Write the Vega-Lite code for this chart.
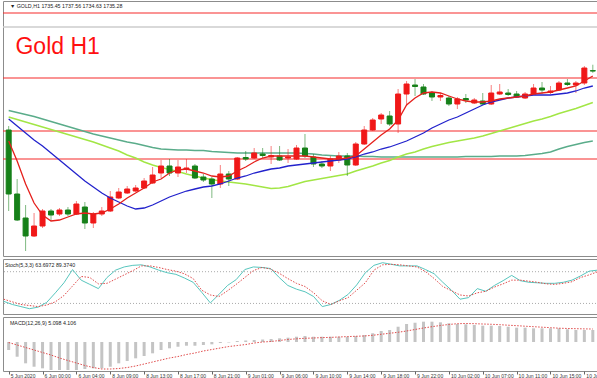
{
"$schema": "https://vega.github.io/schema/vega-lite/v6.json",
"padding": {"left": 1, "top": 0, "right": 0, "bottom": 0},
"spacing": 1,
"background": "white",
"config": {"view": {"stroke": "#8c8c8c", "strokeWidth": 1}, "axis": {"labelOverlap": false, "labelFlush": false, "labelBound": false}},
"datasets": {
"bars": [
{"i":0,"o":1714.06,"h":1715.50,"l":1684.90,"c":1691.02,"m1":1710.10,"m2":1718.02,"m3":1718.74,"m4":1721.08,"k":24,"d":28,"macd":-2.0,"sig":-0.13},
{"i":1,"o":1691.02,"h":1696.42,"l":1681.30,"c":1681.66,"m1":1702.90,"m2":1715.50,"m3":1717.84,"m4":1720.36,"k":18,"d":23,"macd":-3.68,"sig":-0.75},
{"i":2,"o":1682.38,"h":1687.06,"l":1670.50,"c":1675.90,"m1":1694.62,"m2":1712.98,"m3":1716.94,"m4":1719.64,"k":14,"d":18,"macd":-5.33,"sig":-1.38},
{"i":3,"o":1675.90,"h":1684.18,"l":1675.54,"c":1679.50,"m1":1687.78,"m2":1710.46,"m3":1716.04,"m4":1718.92,"k":10,"d":16,"macd":-6.18,"sig":-2.0},
{"i":4,"o":1679.50,"h":1685.62,"l":1678.78,"c":1684.90,"m1":1683.46,"m2":1708.30,"m3":1715.14,"m4":1718.02,"k":13,"d":14,"macd":-6.58,"sig":-2.63},
{"i":5,"o":1684.90,"h":1685.62,"l":1681.30,"c":1683.46,"m1":1681.30,"m2":1705.78,"m3":1714.24,"m4":1717.12,"k":22,"d":17,"macd":-7.0,"sig":-3.25},
{"i":6,"o":1683.82,"h":1685.98,"l":1683.10,"c":1685.26,"m1":1681.66,"m2":1703.26,"m3":1713.34,"m4":1716.22,"k":40,"d":23,"macd":-7.0,"sig":-4.0},
{"i":7,"o":1685.26,"h":1686.34,"l":1683.10,"c":1683.82,"m1":1682.74,"m2":1700.74,"m3":1712.44,"m4":1715.32,"k":59,"d":35,"macd":-7.0,"sig":-4.63},
{"i":8,"o":1683.82,"h":1688.50,"l":1683.46,"c":1687.42,"m1":1683.82,"m2":1698.22,"m3":1711.54,"m4":1714.42,"k":84,"d":53,"macd":-7.0,"sig":-5.25},
{"i":9,"o":1686.34,"h":1688.14,"l":1678.42,"c":1680.58,"m1":1684.18,"m2":1695.70,"m3":1710.64,"m4":1713.52,"k":64,"d":71,"macd":-6.75,"sig":-5.88},
{"i":10,"o":1680.58,"h":1684.54,"l":1678.78,"c":1683.82,"m1":1683.82,"m2":1693.54,"m3":1709.74,"m4":1712.62,"k":56,"d":69,"macd":-6.58,"sig":-6.38},
{"i":11,"o":1683.82,"h":1686.34,"l":1683.10,"c":1684.90,"m1":1684.18,"m2":1691.38,"m3":1708.66,"m4":1711.90,"k":48,"d":57,"macd":-6.58,"sig":-6.75},
{"i":12,"o":1684.90,"h":1692.10,"l":1684.54,"c":1689.94,"m1":1685.62,"m2":1689.58,"m3":1707.58,"m4":1711.18,"k":69,"d":58,"macd":-6.18,"sig":-6.75},
{"i":13,"o":1689.58,"h":1693.18,"l":1689.22,"c":1691.74,"m1":1687.42,"m2":1688.14,"m3":1706.50,"m4":1710.46,"k":83,"d":66,"macd":-5.33,"sig":-6.63},
{"i":14,"o":1691.38,"h":1693.90,"l":1691.02,"c":1692.82,"m1":1689.58,"m2":1686.70,"m3":1705.06,"m4":1709.74,"k":89,"d":74,"macd":-4.75,"sig":-6.38},
{"i":15,"o":1692.10,"h":1694.26,"l":1691.74,"c":1693.18,"m1":1691.38,"m2":1685.62,"m3":1703.98,"m4":1709.20,"k":92,"d":82,"macd":-4.08,"sig":-6.0},
{"i":16,"o":1693.18,"h":1696.78,"l":1692.82,"c":1695.70,"m1":1693.18,"m2":1685.98,"m3":1702.54,"m4":1708.48,"k":93,"d":91,"macd":-3.5,"sig":-5.5},
{"i":17,"o":1694.98,"h":1700.74,"l":1694.62,"c":1697.86,"m1":1695.34,"m2":1687.06,"m3":1701.46,"m4":1707.76,"k":89,"d":91,"macd":-2.83,"sig":-5.0},
{"i":18,"o":1698.58,"h":1703.26,"l":1696.78,"c":1701.10,"m1":1696.42,"m2":1688.50,"m3":1700.56,"m4":1707.22,"k":83,"d":88,"macd":-2.0,"sig":-4.5},
{"i":19,"o":1701.10,"h":1703.62,"l":1697.50,"c":1698.58,"m1":1698.58,"m2":1689.94,"m3":1699.84,"m4":1707.04,"k":78,"d":84,"macd":-1.58,"sig":-4.0},
{"i":20,"o":1698.58,"h":1703.26,"l":1697.14,"c":1700.74,"m1":1699.66,"m2":1691.02,"m3":1699.12,"m4":1706.86,"k":75,"d":81,"macd":-1.18,"sig":-3.63},
{"i":21,"o":1699.84,"h":1703.62,"l":1698.58,"c":1700.38,"m1":1700.02,"m2":1692.10,"m3":1698.22,"m4":1706.86,"k":68,"d":76,"macd":-0.93,"sig":-3.13},
{"i":22,"o":1701.10,"h":1701.82,"l":1696.42,"c":1696.78,"m1":1699.30,"m2":1692.82,"m3":1697.50,"m4":1706.68,"k":60,"d":67,"macd":-0.93,"sig":-2.75},
{"i":23,"o":1697.14,"h":1698.22,"l":1695.34,"c":1696.06,"m1":1698.58,"m2":1693.54,"m3":1696.78,"m4":1706.68,"k":41,"d":45,"macd":-0.75,"sig":-2.25},
{"i":24,"o":1696.42,"h":1697.14,"l":1689.58,"c":1694.62,"m1":1697.50,"m2":1693.90,"m3":1696.24,"m4":1706.32,"k":21,"d":36,"macd":-0.58,"sig":-1.88},
{"i":25,"o":1694.62,"h":1701.46,"l":1693.18,"c":1698.22,"m1":1697.14,"m2":1694.62,"m3":1695.70,"m4":1706.14,"k":37,"d":33,"macd":-0.25,"sig":-1.5},
{"i":26,"o":1698.22,"h":1699.30,"l":1693.90,"c":1696.42,"m1":1697.50,"m2":1695.70,"m3":1695.34,"m4":1705.96,"k":54,"d":44,"macd":-0.12,"sig":-1.13},
{"i":27,"o":1696.42,"h":1704.34,"l":1696.06,"c":1703.98,"m1":1699.30,"m2":1696.78,"m3":1694.98,"m4":1705.78,"k":65,"d":56,"macd":0.25,"sig":-0.88},
{"i":28,"o":1704.16,"h":1706.50,"l":1702.90,"c":1703.62,"m1":1700.74,"m2":1697.50,"m3":1694.62,"m4":1705.78,"k":84,"d":69,"macd":0.38,"sig":-0.63},
{"i":29,"o":1703.98,"h":1707.58,"l":1703.62,"c":1705.78,"m1":1702.54,"m2":1698.58,"m3":1694.08,"m4":1705.78,"k":89,"d":82,"macd":0.5,"sig":-0.25},
{"i":30,"o":1705.42,"h":1707.58,"l":1703.98,"c":1704.88,"m1":1703.98,"m2":1699.30,"m3":1693.54,"m4":1705.78,"k":88,"d":88,"macd":0.62,"sig":0.0},
{"i":31,"o":1704.34,"h":1708.30,"l":1701.82,"c":1704.88,"m1":1704.70,"m2":1700.02,"m3":1693.00,"m4":1705.78,"k":86,"d":85,"macd":0.75,"sig":0.13},
{"i":32,"o":1704.70,"h":1708.30,"l":1702.90,"c":1703.26,"m1":1704.70,"m2":1700.38,"m3":1693.18,"m4":1705.78,"k":69,"d":77,"macd":0.92,"sig":0.38},
{"i":33,"o":1703.98,"h":1707.22,"l":1702.18,"c":1704.34,"m1":1704.70,"m2":1701.10,"m3":1693.72,"m4":1705.78,"k":54,"d":67,"macd":1.08,"sig":0.63},
{"i":34,"o":1703.62,"h":1708.66,"l":1703.26,"c":1707.58,"m1":1704.70,"m2":1701.46,"m3":1694.62,"m4":1705.78,"k":47,"d":58,"macd":1.32,"sig":0.8},
{"i":35,"o":1707.58,"h":1712.62,"l":1703.98,"c":1704.70,"m1":1704.70,"m2":1701.82,"m3":1695.52,"m4":1705.60,"k":42,"d":52,"macd":1.5,"sig":0.93},
{"i":36,"o":1704.34,"h":1705.42,"l":1700.74,"c":1701.82,"m1":1704.34,"m2":1702.18,"m3":1696.06,"m4":1705.42,"k":33,"d":40,"macd":1.32,"sig":1.0},
{"i":37,"o":1701.82,"h":1702.90,"l":1700.38,"c":1701.10,"m1":1703.98,"m2":1702.54,"m3":1696.60,"m4":1705.06,"k":14,"d":25,"macd":1.32,"sig":1.1},
{"i":38,"o":1701.10,"h":1704.70,"l":1699.30,"c":1703.62,"m1":1703.62,"m2":1702.90,"m3":1697.14,"m4":1704.88,"k":18,"d":18,"macd":1.32,"sig":1.15},
{"i":39,"o":1703.26,"h":1706.14,"l":1702.18,"c":1704.70,"m1":1703.62,"m2":1703.26,"m3":1697.68,"m4":1704.70,"k":26,"d":25,"macd":1.32,"sig":1.25},
{"i":40,"o":1704.70,"h":1705.78,"l":1697.50,"c":1701.46,"m1":1703.98,"m2":1703.62,"m3":1698.22,"m4":1704.70,"k":37,"d":31,"macd":1.32,"sig":1.35},
{"i":41,"o":1701.46,"h":1709.74,"l":1701.10,"c":1709.02,"m1":1704.70,"m2":1704.34,"m3":1699.30,"m4":1704.70,"k":55,"d":45,"macd":1.5,"sig":1.43},
{"i":42,"o":1709.02,"h":1715.50,"l":1708.66,"c":1714.06,"m1":1707.22,"m2":1705.42,"m3":1700.20,"m4":1704.52,"k":78,"d":59,"macd":1.75,"sig":1.5},
{"i":43,"o":1714.06,"h":1718.38,"l":1713.70,"c":1717.66,"m1":1709.74,"m2":1706.14,"m3":1701.10,"m4":1704.52,"k":92,"d":83,"macd":2.18,"sig":1.68},
{"i":44,"o":1718.02,"h":1720.18,"l":1716.22,"c":1719.46,"m1":1712.26,"m2":1707.22,"m3":1702.18,"m4":1704.34,"k":97,"d":93,"macd":2.75,"sig":1.93},
{"i":45,"o":1719.10,"h":1720.90,"l":1715.50,"c":1716.22,"m1":1714.42,"m2":1707.94,"m3":1703.08,"m4":1704.34,"k":94,"d":94,"macd":3.0,"sig":2.18},
{"i":46,"o":1716.22,"h":1728.82,"l":1712.98,"c":1727.02,"m1":1717.66,"m2":1709.02,"m3":1704.34,"m4":1704.34,"k":91,"d":93,"macd":3.82,"sig":2.43},
{"i":47,"o":1727.02,"h":1731.70,"l":1722.70,"c":1730.62,"m1":1723.06,"m2":1710.10,"m3":1705.42,"m4":1704.34,"k":91,"d":91,"macd":4.5,"sig":2.75},
{"i":48,"o":1730.26,"h":1732.42,"l":1726.30,"c":1729.72,"m1":1725.58,"m2":1711.54,"m3":1706.14,"m4":1704.34,"k":91,"d":89,"macd":4.82,"sig":3.13},
{"i":49,"o":1729.54,"h":1730.62,"l":1726.66,"c":1727.02,"m1":1727.38,"m2":1712.98,"m3":1707.22,"m4":1704.34,"k":84,"d":80,"macd":5.08,"sig":3.5},
{"i":50,"o":1727.38,"h":1728.10,"l":1724.50,"c":1725.94,"m1":1727.74,"m2":1714.78,"m3":1708.12,"m4":1704.34,"k":76,"d":67,"macd":5.08,"sig":3.83},
{"i":51,"o":1725.94,"h":1727.38,"l":1724.50,"c":1726.48,"m1":1727.38,"m2":1716.22,"m3":1708.84,"m4":1704.34,"k":60,"d":52,"macd":4.92,"sig":4.13},
{"i":52,"o":1725.58,"h":1726.30,"l":1722.70,"c":1723.42,"m1":1726.30,"m2":1717.66,"m3":1709.56,"m4":1704.34,"k":45,"d":44,"macd":4.68,"sig":4.38},
{"i":53,"o":1723.42,"h":1725.94,"l":1721.62,"c":1725.22,"m1":1725.22,"m2":1718.74,"m3":1710.10,"m4":1704.34,"k":28,"d":36,"macd":4.5,"sig":4.58},
{"i":54,"o":1725.40,"h":1727.02,"l":1723.78,"c":1724.86,"m1":1724.50,"m2":1720.18,"m3":1710.64,"m4":1704.52,"k":31,"d":34,"macd":4.42,"sig":4.63},
{"i":55,"o":1723.78,"h":1725.58,"l":1723.42,"c":1724.86,"m1":1724.14,"m2":1721.62,"m3":1711.18,"m4":1704.52,"k":48,"d":40,"macd":4.25,"sig":4.58},
{"i":56,"o":1724.50,"h":1727.38,"l":1723.06,"c":1723.42,"m1":1724.14,"m2":1723.06,"m3":1711.90,"m4":1704.52,"k":43,"d":43,"macd":4.08,"sig":4.5},
{"i":57,"o":1723.42,"h":1730.26,"l":1723.06,"c":1727.38,"m1":1724.50,"m2":1724.14,"m3":1712.80,"m4":1704.52,"k":54,"d":51,"macd":4.08,"sig":4.43},
{"i":58,"o":1727.02,"h":1730.62,"l":1726.66,"c":1727.74,"m1":1725.22,"m2":1724.86,"m3":1713.70,"m4":1704.70,"k":63,"d":57,"macd":4.0,"sig":4.33},
{"i":59,"o":1727.38,"h":1728.82,"l":1726.30,"c":1726.84,"m1":1725.58,"m2":1725.58,"m3":1714.60,"m4":1704.70,"k":73,"d":64,"macd":3.82,"sig":4.2},
{"i":60,"o":1727.02,"h":1728.10,"l":1725.58,"c":1725.94,"m1":1725.94,"m2":1725.94,"m3":1715.50,"m4":1704.70,"k":63,"d":64,"macd":3.58,"sig":4.08},
{"i":61,"o":1725.58,"h":1727.74,"l":1725.22,"c":1727.02,"m1":1726.30,"m2":1726.30,"m3":1716.40,"m4":1704.88,"k":60,"d":62,"macd":3.58,"sig":3.95},
{"i":62,"o":1727.02,"h":1730.62,"l":1726.66,"c":1729.18,"m1":1727.02,"m2":1726.66,"m3":1717.30,"m4":1705.24,"k":59,"d":60,"macd":3.42,"sig":3.83},
{"i":63,"o":1729.18,"h":1731.34,"l":1727.02,"c":1728.46,"m1":1727.38,"m2":1726.66,"m3":1718.02,"m4":1705.60,"k":58,"d":57,"macd":3.42,"sig":3.7},
{"i":64,"o":1727.56,"h":1729.90,"l":1727.02,"c":1728.10,"m1":1727.74,"m2":1726.66,"m3":1718.92,"m4":1706.14,"k":58,"d":56,"macd":3.42,"sig":3.58},
{"i":65,"o":1728.46,"h":1731.70,"l":1728.10,"c":1730.98,"m1":1728.46,"m2":1727.02,"m3":1720.00,"m4":1707.22,"k":60,"d":58,"macd":3.42,"sig":3.45},
{"i":66,"o":1730.98,"h":1732.42,"l":1729.90,"c":1730.44,"m1":1729.18,"m2":1727.38,"m3":1720.90,"m4":1708.12,"k":64,"d":61,"macd":3.18,"sig":3.38},
{"i":67,"o":1730.26,"h":1731.70,"l":1727.38,"c":1730.98,"m1":1729.90,"m2":1728.10,"m3":1721.80,"m4":1708.84,"k":72,"d":69,"macd":3.0,"sig":3.33},
{"i":68,"o":1730.98,"h":1737.10,"l":1730.26,"c":1736.38,"m1":1731.70,"m2":1729.18,"m3":1722.88,"m4":1709.56,"k":81,"d":74,"macd":3.0,"sig":3.28},
{"i":69,"o":1735.45,"h":1737.56,"l":1734.63,"c":1735.28,"m1":1733.50,"m2":1729.90,"m3":1723.96,"m4":1710.10,"k":83,"d":80,"macd":3.0,"sig":3.25}
],
"levels": [{"price":1756.18},{"price":1732.78},{"price":1713.70},{"price":1703.62}]
},
"vconcat": [
{
"width": 596, "height": 255,
"layer": [
 {"data": {"values": [{"p": 1751.14}]}, "mark": {"type": "rule", "color": "#cccccc", "strokeWidth": 1.5}, "encoding": {"y": {"field": "p", "type": "quantitative", "scale": {"domain": [1668.7, 1760.5], "nice": false, "zero": false}, "axis": null}}},
 {"data": {"name": "levels"}, "mark": {"type": "rule", "color": "#f52a2a", "strokeWidth": 1.2}, "encoding": {"y": {"field": "price", "type": "quantitative"}}},
 {"data": {"name": "bars"}, "mark": {"type": "line", "color": "#5aac8a", "strokeWidth": 1.5}, "encoding": {"x": {"field": "i", "type": "quantitative", "scale": {"domain": [-0.08, 69.14], "nice": false, "zero": false}, "axis": null}, "y": {"field": "m4", "type": "quantitative"}}},
 {"data": {"name": "bars"}, "mark": {"type": "line", "color": "#a2e645", "strokeWidth": 1.5}, "encoding": {"x": {"field": "i", "type": "quantitative"}, "y": {"field": "m3", "type": "quantitative"}}},
 {"data": {"name": "bars"}, "mark": {"type": "rule", "strokeWidth": 1, "opacity": 0.55}, "encoding": {"x": {"field": "i", "type": "quantitative"}, "y": {"field": "l", "type": "quantitative"}, "y2": {"field": "h"}, "color": {"condition": {"test": "datum.c >= datum.o", "value": "#f01818"}, "value": "#168019"}}},
 {"data": {"name": "bars"}, "mark": {"type": "bar", "width": 5, "strokeWidth": 1}, "encoding": {"x": {"field": "i", "type": "quantitative"}, "y": {"field": "o", "type": "quantitative"}, "y2": {"field": "c"}, "color": {"condition": {"test": "datum.c >= datum.o", "value": "#f01818"}, "value": "#168019"}, "stroke": {"condition": {"test": "datum.c >= datum.o", "value": "#f01818"}, "value": "#168019"}}},
 {"data": {"name": "bars"}, "mark": {"type": "line", "color": "#2222cc", "strokeWidth": 1.3}, "encoding": {"x": {"field": "i", "type": "quantitative"}, "y": {"field": "m2", "type": "quantitative"}}},
 {"data": {"name": "bars"}, "mark": {"type": "line", "color": "#e5201c", "strokeWidth": 1.3}, "encoding": {"x": {"field": "i", "type": "quantitative"}, "y": {"field": "m1", "type": "quantitative"}}},
 {"data": {"values": [{"label": "▼ GOLD,H1  1735.45 1737.56 1734.63 1735.28", "at": 0.15, "lv": 1758.88}]}, "mark": {"type": "text", "align": "left", "baseline": "middle", "fontSize": 5.3, "font": "Liberation Sans", "fill": "#222222"}, "encoding": {"x": {"field": "at", "type": "quantitative"}, "y": {"field": "lv", "type": "quantitative"}, "text": {"field": "label"}}},
 {"data": {"values": [{"label": "Gold H1", "at": 0.8, "lv": 1741.42}]}, "mark": {"type": "text", "align": "left", "baseline": "alphabetic", "fontSize": 23, "font": "Liberation Sans", "fill": "#ff1010"}, "encoding": {"x": {"field": "at", "type": "quantitative"}, "y": {"field": "lv", "type": "quantitative"}, "text": {"field": "label"}}}
]
},
{
"width": 596, "height": 55,
"layer": [
 {"data": {"values": [{"lv": 80}, {"lv": 20}]}, "mark": {"type": "rule", "color": "#aaaaaa", "strokeWidth": 1, "strokeDash": [1, 2]}, "encoding": {"y": {"field": "lv", "type": "quantitative", "scale": {"domain": [0, 104], "nice": false, "zero": false}, "axis": null}}},
 {"data": {"name": "bars"}, "mark": {"type": "line", "color": "#58c6be", "strokeWidth": 1}, "encoding": {"x": {"field": "i", "type": "quantitative", "scale": {"domain": [-0.08, 69.14], "nice": false, "zero": false}, "axis": null}, "y": {"field": "k", "type": "quantitative"}}},
 {"data": {"name": "bars"}, "mark": {"type": "line", "color": "#e04a4a", "strokeWidth": 1, "strokeDash": [1.5, 1.5]}, "encoding": {"x": {"field": "i", "type": "quantitative"}, "y": {"field": "d", "type": "quantitative"}}},
 {"data": {"values": [{"label": "Stoch(5,3,3) 63.6972 89.3740", "at": 0.15, "lv": 93.2}]}, "mark": {"type": "text", "align": "left", "baseline": "middle", "fontSize": 5.3, "font": "Liberation Sans", "fill": "#222222"}, "encoding": {"x": {"field": "at", "type": "quantitative"}, "y": {"field": "lv", "type": "quantitative"}, "text": {"field": "label"}}}
]
},
{
"width": 596, "height": 54,
"encoding": {
  "x": {"field": "i", "type": "quantitative", "scale": {"domain": [-0.08, 69.14], "nice": false, "zero": false},
   "axis": {"orient": "bottom", "values": [0,4,8,12,16,20,24,28,32,36,40,44,48,52,56,60,64,68],
    "labelExpr": "['5 Jun 2020','6 Jun 00:00','6 Jun 04:00','8 Jun 09:00','8 Jun 13:00','8 Jun 17:00','8 Jun 21:00','9 Jun 01:00','9 Jun 06:00','9 Jun 10:00','9 Jun 14:00','9 Jun 18:00','9 Jun 22:00','10 Jun 02:00','10 Jun 07:00','10 Jun 11:00','10 Jun 15:00','10 Jun 19:00'][round(datum.value/4)]",
    "labelAlign": "left", "labelBaseline": "top", "labelFontSize": 5, "labelFont": "Liberation Sans", "labelColor": "#333333",
    "labelPadding": -1, "labelOffset": 1.5, "tickSize": 3, "tickColor": "#666666", "domain": false, "grid": false,
    "labelOverlap": false, "labelFlush": false, "labelBound": false, "title": null}}
},
"layer": [
 {"data": {"name": "bars"}, "mark": {"type": "bar", "width": 3, "color": "#c4c4c4"}, "encoding": {"y": {"field": "macd", "type": "quantitative", "scale": {"domain": [-7.25, 6.25], "nice": false, "zero": false}, "axis": null}, "y2": {"datum": 0}}},
 {"data": {"name": "bars"}, "mark": {"type": "line", "color": "#e04a4a", "strokeWidth": 1, "strokeDash": [1.5, 1.5]}, "encoding": {"y": {"field": "sig", "type": "quantitative"}}},
 {"data": {"values": [{"label": "MACD(12,26,9) 5.098 4.106", "i": 0.15, "lv": 4.675}]}, "mark": {"type": "text", "align": "left", "baseline": "middle", "fontSize": 5.3, "font": "Liberation Sans", "fill": "#222222"}, "encoding": {"y": {"field": "lv", "type": "quantitative"}, "text": {"field": "label"}}}
]
}
]
}
